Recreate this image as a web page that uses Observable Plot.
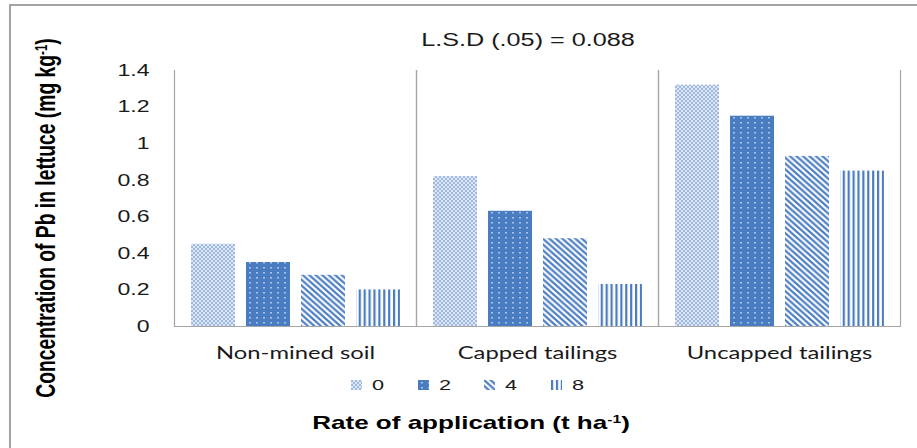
<!DOCTYPE html>
<html>
<head>
<meta charset="utf-8">
<script src="https://cdn.jsdelivr.net/npm/d3@7"></script>
<script src="https://cdn.jsdelivr.net/npm/@observablehq/plot@0.6"></script>
<style>
  html, body { margin: 0; padding: 0; background: #fff; }
  #wrap { position: relative; width: 917px; height: 448px; overflow: hidden; background: #fff; }
  #border { position: absolute; left: 9px; top: 4px; right: -5px; bottom: -5px; border-left: 2px solid #a3a3a3; border-top: 2px solid #a3a3a3; }
  #chart { position: absolute; left: 0; top: 0; }
  .lbl { position: absolute; white-space: nowrap; color: #000; font-family: "Liberation Sans", Arial, sans-serif; }
  .pt { position: absolute; left: 0; top: 0; transform-origin: 0 0; }
  .pt sup { font-size: 0.6em; vertical-align: 0; position: relative; top: -0.55em; }
  #legend { position: absolute; left: 351px; top: 376px; display: flex; align-items: center; font-family: "Liberation Sans", Arial, sans-serif; font-size: 15.5px; color: #1a1a1a; }
  .item { display: flex; align-items: center; width: 66.5px; }
  .item svg { margin-right: 10px; }
  .item span { display: inline-block; transform: scaleX(1.4); transform-origin: 0 50%; }
</style>
</head>
<body>
<svg width="0" height="0" style="position:absolute">
  <defs>
    <pattern id="p0" width="4" height="4" patternUnits="userSpaceOnUse">
      <rect width="4" height="4" fill="#dde7f5"/>
      <rect width="2" height="2" fill="#9fb9e1"/>
      <rect x="2" y="2" width="2" height="2" fill="#9fb9e1"/>
    </pattern>
    <pattern id="p2" width="7" height="5" patternUnits="userSpaceOnUse">
      <rect width="7" height="5" fill="#4a7cc2"/>
      <rect x="3" y="2" width="2" height="1.5" fill="#a9c3e8"/>
    </pattern>
    <pattern id="p4" width="6.5" height="5.8" patternUnits="userSpaceOnUse">
      <rect width="6.5" height="5.8" fill="#ffffff"/>
      <path d="M-1.3,-1.16 L7.8,6.96 M5.2,-1.16 L7.8,1.16 M-1.3,4.64 L1.3,6.96" stroke="#4a7cc2" stroke-width="2.2" fill="none"/>
    </pattern>
    <pattern id="p8" width="4.9" height="4" patternUnits="userSpaceOnUse">
      <rect width="4.9" height="4" fill="#ffffff"/>
      <rect x="0" y="0" width="2.2" height="4" fill="#4a7cc2"/>
    </pattern>
  </defs>
</svg>
<div id="wrap">
  <div id="border"></div>
  <div id="chart"></div>
</div>
<script>
// ---- data ----
const categories = ["Non-mined soil", "Capped tailings", "Uncapped tailings"];
const rates = ["0", "2", "4", "8"];
const rate0 = [0.45, 0.82, 1.32];
const rate2 = [0.35, 0.63, 1.15];
const rate4 = [0.28, 0.48, 0.93];
const rate8 = [0.20, 0.23, 0.85];
const yTicks = [0, 0.2, 0.4, 0.6, 0.8, 1, 1.2, 1.4];
const patterns = ["url(#p0)", "url(#p2)", "url(#p4)", "url(#p8)"];
const titleText = "L.S.D (.05) = 0.088";
const yTitleMain = "Concentration of Pb in lettuce (mg kg";
const xTitleMain = "Rate of application (t ha";
const unitSup = "-1";

const series = [rate0, rate2, rate4, rate8];
const data = [];
categories.forEach((c, i) => rates.forEach((r, j) => data.push({cat: c, rate: r, value: series[j][i]})));

const STRETCH = 1.4;
const grey = "#a6a6a6";

const plot = Plot.plot({
  width: 917,
  height: 448,
  marginLeft: 173,
  marginRight: 16,
  marginTop: 70,
  marginBottom: 122,
  style: {fontFamily: "'Liberation Sans', Arial, sans-serif", background: "transparent", color: "#1a1a1a"},
  fx: {domain: categories, padding: 0, label: null},
  x: {domain: rates, paddingInner: 0.2, paddingOuter: 0.3, axis: null},
  y: {domain: [0, 1.4], axis: null},
  color: {type: "ordinal", domain: rates, range: patterns},
  marks: [
    Plot.barY(data, {fx: "cat", x: "rate", y: "value", fill: "rate"}),
    Plot.frame({anchor: "left", stroke: grey, strokeWidth: 1.2}),
    Plot.frame({anchor: "right", stroke: grey, strokeWidth: 1.2}),
    Plot.ruleY([0], {stroke: grey, strokeWidth: 1.2}),
    Plot.axisY({ticks: yTicks, tickSize: 0, tickPadding: 25, tickFormat: d => String(d), fontSize: 16.5, label: null}),
    Plot.axisFx({anchor: "bottom", tickSize: 0, tickPadding: 20, fontSize: 17, fontFamily: "Lato, sans-serif", label: null})
  ]
});
document.getElementById("chart").appendChild(plot);

// horizontally stretched glyphs as in the reference image
d3.select(plot).selectAll("g[aria-label$='tick label'] text").each(function() {
  const t = d3.select(this);
  const x = +(t.attr("x") || 0);
  const tr = t.attr("transform") || "";
  t.attr("transform", `${tr} translate(${x},0) scale(${STRETCH},1) translate(${-x},0)`);
});

const wrap = document.getElementById("wrap");
function addLabel(text, sup, cx, cy, css, rotate) {
  const w = document.createElement("div");
  w.className = "lbl";
  w.style.left = cx + "px";
  w.style.top = cy + "px";
  const s = document.createElement("span");
  s.className = "pt";
  s.appendChild(document.createTextNode(text));
  if (sup) {
    const sp = document.createElement("sup");
    sp.textContent = sup;
    s.appendChild(sp);
    s.appendChild(document.createTextNode(")"));
  }
  Object.assign(s.style, css);
  s.style.whiteSpace = "nowrap";
  s.style.transform = rotate
    ? `scaleX(${STRETCH}) rotate(-90deg) translate(-50%,-50%)`
    : `scaleX(${STRETCH}) translate(-50%,-50%)`;
  w.appendChild(s);
  wrap.appendChild(w);
}
addLabel(titleText, null, 528, 40, {fontSize: "18px", color: "#1a1a1a"});
addLabel(yTitleMain, unitSup, 47, 218, {fontSize: "19.3px", fontWeight: "bold"}, true);
addLabel(xTitleMain, unitSup, 471, 423, {fontSize: "18.6px", fontWeight: "bold"});

// legend built from the plot's color scale
const color = plot.scale("color");
const legend = document.createElement("div");
legend.id = "legend";
color.domain.forEach((r, i) => {
  const item = document.createElement("div");
  item.className = "item";
  item.innerHTML = `<svg width="11" height="10"><rect width="11" height="10" fill="${color.range[i]}"/></svg><span>${r}</span>`;
  legend.appendChild(item);
});
wrap.appendChild(legend);
</script>
</body>
</html>
